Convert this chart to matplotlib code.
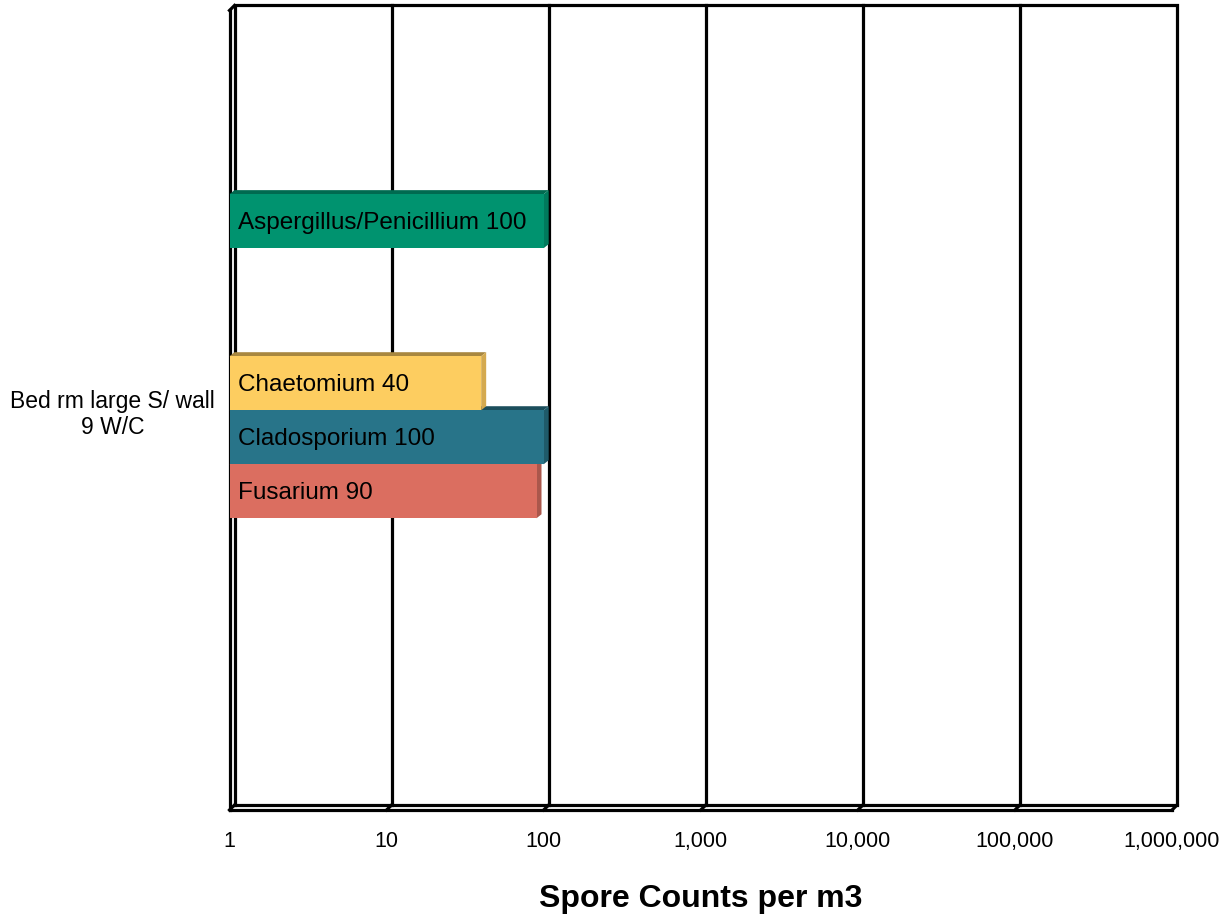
import numpy as np
import matplotlib.pyplot as plt
from matplotlib.patches import Polygon
from matplotlib.transforms import offset_copy, blended_transform_factory, IdentityTransform
from matplotlib.ticker import FixedLocator, FuncFormatter, NullLocator

plt.rcParams["font.family"] = ["Liberation Sans", "DejaVu Sans"]

# sample location and spore counts per genus
category = "Bed rm large S/ wall\n9 W/C"
genera = ["Aspergillus/Penicillium", "Chaetomium", "Cladosporium", "Fusarium"]
counts = [100, 40, 100, 90]
tick_values = [1, 10, 100, 1000, 10000, 100000, 1000000]

# face colours: front, top, side
front_colors = ["#00936f", "#fdcd60", "#287489", "#db6e60"]
top_colors = ["#006a50", "#a8873f", "#1b4e5c", "#934a40"]
side_colors = ["#007a5c", "#d4a94f", "#1f5a69", "#aa574c"]
# vertical slot of each bar around the category centre
slots = [3.5, 0.5, -0.5, -1.5]

DX, DY = 5, 5        # wall depth in pixels
BDX, BDY = 5, 4      # bar depth in pixels
LW = 2.3

fig = plt.figure(figsize=(12.26, 9.17), dpi=100)
ax = fig.add_axes([0.1872, 0.1167, 0.7688, 0.8719])
ax.set_xscale("log")
ax.set_xlim(tick_values[0], tick_values[-1])
ax.set_ylim(-7.4, 7.4)
ax.patch.set_visible(False)
for s in ax.spines.values():
    s.set_visible(False)

back_axes = offset_copy(ax.transAxes, fig=fig, x=DX, y=DY, units="dots")
grid_tr = blended_transform_factory(ax.transData, ax.transAxes)
back_grid = offset_copy(grid_tr, fig=fig, x=DX, y=DY, units="dots")

# back wall and gridlines
ax.plot([0, 0, 1, 1, 0], [0, 1, 1, 0, 0], color="black", lw=LW,
        transform=back_axes, clip_on=False, solid_joinstyle="miter")
for v in tick_values[1:-1]:
    ax.plot([v, v], [0, 1], color="black", lw=LW, transform=back_grid, clip_on=False)

# floor and left wall edges
ax.plot([0, 1], [0, 0], color="black", lw=LW, transform=ax.transAxes, clip_on=False)
ax.plot([0, 0], [0, 1], color="black", lw=LW, transform=ax.transAxes, clip_on=False)
disp = ax.transAxes.transform
for pt in [(0, 1), (0, 0), (1, 0)]:
    x0, y0 = disp(pt)
    ax.plot([x0, x0 + DX], [y0, y0 + DY], color="black", lw=LW,
            transform=IdentityTransform(), clip_on=False)
for v in tick_values[1:-1]:
    x0, y0 = grid_tr.transform((v, 0))
    ax.plot([x0, x0 + DX], [y0, y0 + DY], color="black", lw=LW,
            transform=IdentityTransform(), clip_on=False)

# 3-D bars, drawn bottom to top so upper bars hide lower top faces
half = 0.5
order = np.argsort(slots)
for i in order:
    (xl, yb), (xr, yt) = ax.transData.transform([(1, slots[i] - half), (counts[i], slots[i] + half)])
    top = [(xl, yt), (xr, yt), (xr + BDX, yt + BDY), (xl + BDX, yt + BDY)]
    side = [(xr, yb), (xr, yt), (xr + BDX, yt + BDY), (xr + BDX, yb + BDY)]
    ax.add_patch(Polygon(top, closed=True, facecolor=top_colors[i], edgecolor="none",
                         transform=IdentityTransform(), clip_on=False, zorder=3))
    ax.add_patch(Polygon(side, closed=True, facecolor=side_colors[i], edgecolor="none",
                         transform=IdentityTransform(), clip_on=False, zorder=3))
    ax.barh(slots[i], counts[i] - 1, left=1, height=2 * half, color=front_colors[i],
            edgecolor="none", zorder=3, clip_on=False)
    ax.annotate(f"{genera[i]} {counts[i]}", xy=(1, slots[i]), xytext=(8, -2),
                textcoords="offset pixels", va="center", ha="left", fontsize=17.5,
                zorder=4)

ax.xaxis.set_major_locator(FixedLocator(tick_values))
ax.xaxis.set_minor_locator(NullLocator())
ax.xaxis.set_major_formatter(FuncFormatter(lambda v, p: f"{int(round(v)):,}"))
ax.tick_params(axis="x", length=0, pad=15, labelsize=15.5)
ax.set_yticks([0])
ax.set_yticklabels([category], ha="center", multialignment="center", fontsize=16.5)
ax.tick_params(axis="y", length=0, pad=84)
ax.set_xlabel("Spore Counts per m3", fontsize=23, fontweight="bold", labelpad=23.5)

fig.savefig("out.png", dpi=100)
